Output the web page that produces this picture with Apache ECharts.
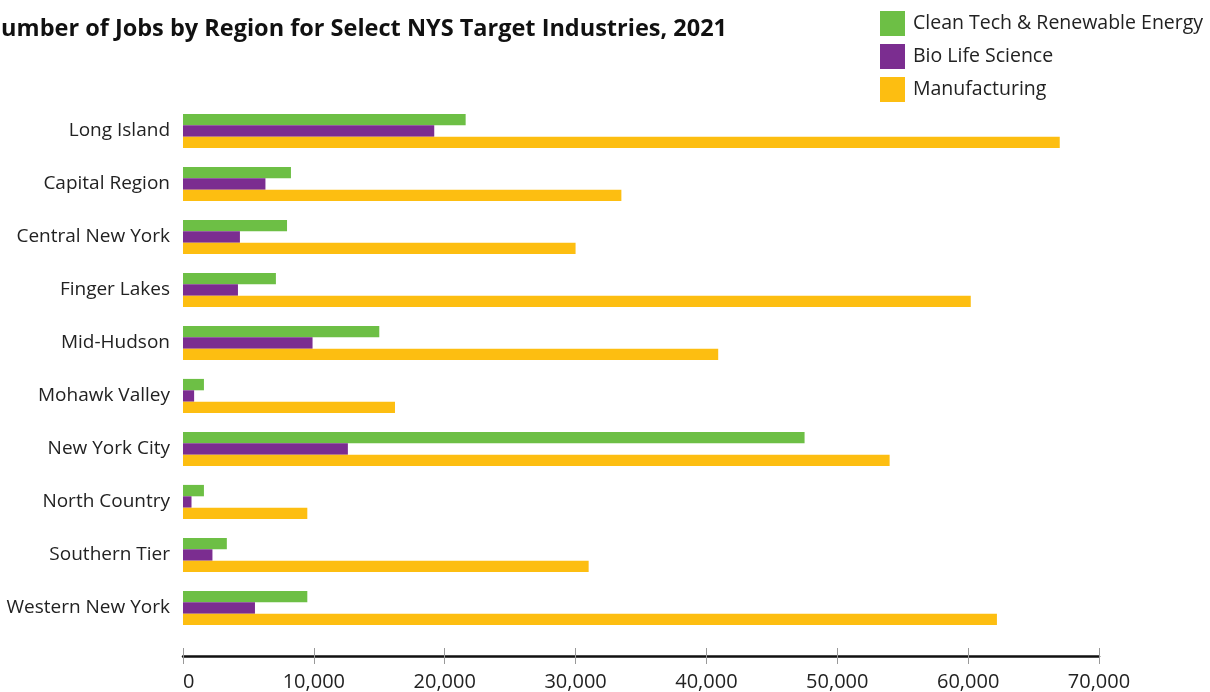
<!DOCTYPE html>
<html>
<head>
<meta charset="utf-8">
<script src="https://cdn.jsdelivr.net/npm/echarts@6/dist/echarts.min.js"></script>
<style>html,body{margin:0;padding:0;background:#fff;}#c{width:1210px;height:692px;}</style>
</head>
<body>
<div id="c"></div>
<script>
const regions = ["Long Island","Capital Region","Central New York","Finger Lakes","Mid-Hudson","Mohawk Valley","New York City","North Country","Southern Tier","Western New York"];
const cleanTech = [21600, 8250, 7950, 7100, 15000, 1600, 47500, 1600, 3350, 9500];
const bioLife = [19200, 6300, 4350, 4200, 9900, 850, 12600, 650, 2250, 5500];
const manufacturing = [67000, 33500, 30000, 60200, 40900, 16200, 54000, 9500, 31000, 62200];
const seriesNames = ["Clean Tech & Renewable Energy","Bio Life Science","Manufacturing"];
const colors = ["#6DBF45","#7B2D90","#FDBE11"];
const font = "Open Sans";

const chart = echarts.init(document.getElementById('c'), null, {renderer:'canvas'});
const mk = (name, data, color) => ({
  name, type:'bar', data, barWidth: 11.4, barGap: '0%',
  itemStyle:{color}, xAxisIndex:0, yAxisIndex:0
});
chart.setOption({
  animation:false,
  backgroundColor:'#fff',
  title:{
    text:"Number of Jobs by Region for Select NYS Target Industries, 2021",
    left:-18, top:17, padding:0,
    textStyle:{fontFamily:font, fontWeight:'bold', fontSize:23.5, color:'#111'}
  },
  legend:{
    orient:'vertical', left:880, top:11, padding:0,
    itemWidth:25, itemHeight:25, itemGap:8,
    icon:'rect',
    data: seriesNames,
    textStyle:{fontFamily:font, fontSize:19.5, color:'#222', padding:[0,0,0,3]}
  },
  grid:{left:183, right:111, top:104.5, bottom:57.5, containLabel:false},
  xAxis:[{
    type:'value', min:0, max:70000, interval:10000, offset:21.5,
    axisLine:{show:true, lineStyle:{color:'#111', width:2.5}},
    axisTick:{show:true, length:8, lineStyle:{color:'#999', width:1}},
    splitLine:{show:false},
    axisLabel:{fontFamily:font, fontSize:20, color:'#222', margin:16,
      alignMinLabel:'left',
      formatter: v => v.toLocaleString('en-US')}
  },{
    type:'value', min:0, max:70000, interval:10000, offset:21.5, position:'bottom',
    axisLine:{show:false},
    axisTick:{show:true, inside:true, length:8, lineStyle:{color:'#999', width:1}},
    splitLine:{show:false},
    axisLabel:{show:false}
  }],
  yAxis:{
    type:'category', data:regions, inverse:true,
    axisLine:{show:false}, axisTick:{show:false},
    axisLabel:{fontFamily:font, fontSize:19, color:'#222', margin:13, padding:[4,0,0,0]}
  },
  series:[
    mk(seriesNames[0], cleanTech, colors[0]),
    mk(seriesNames[1], bioLife, colors[1]),
    mk(seriesNames[2], manufacturing, colors[2])
  ]
});
</script>
</body>
</html>
